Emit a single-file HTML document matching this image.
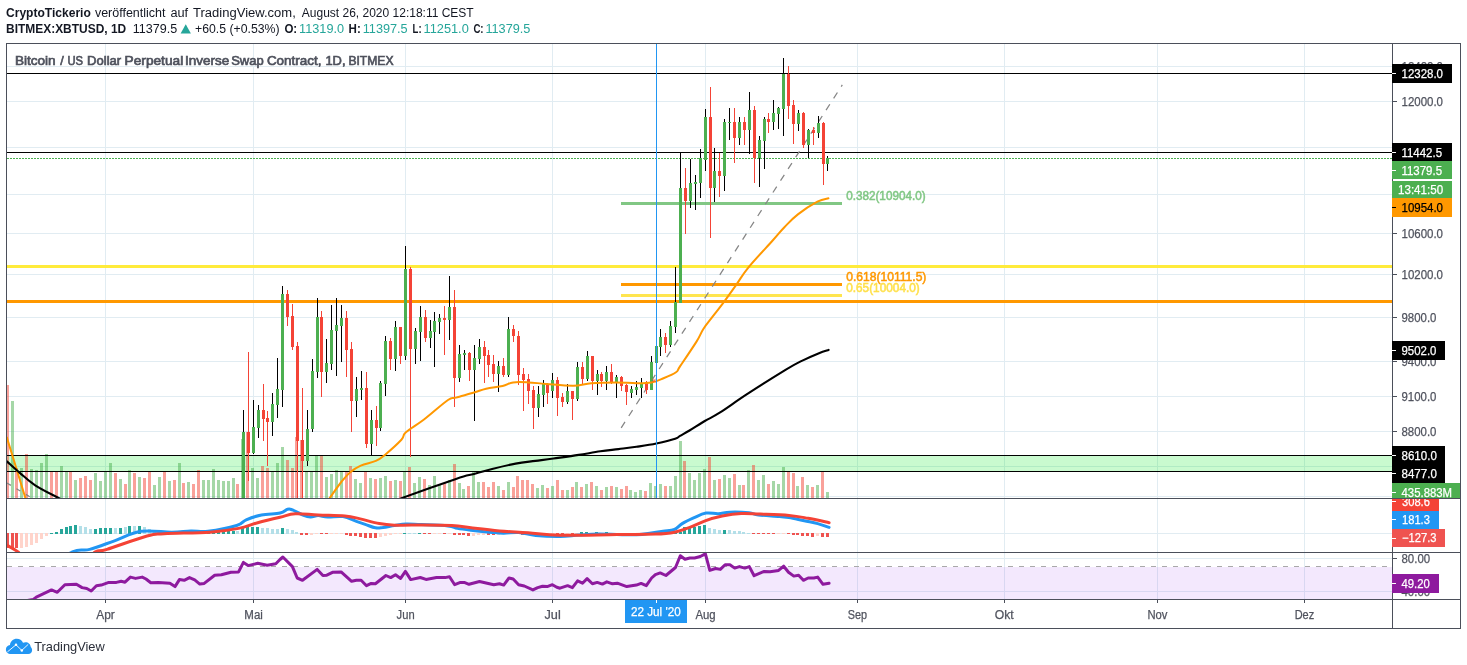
<!DOCTYPE html>
<html lang="de"><head><meta charset="utf-8"><title>BITMEX:XBTUSD 1D</title>
<style>html,body{margin:0;padding:0;background:#fff}svg{display:block}text{font-family:"Liberation Sans", Arial, sans-serif}</style></head>
<body><svg width="1467" height="665" viewBox="0 0 1467 665">
<rect width="1467" height="665" fill="#fff"/>
<defs>
<clipPath id="c1"><rect x="7" y="44" width="1385" height="454"/></clipPath>
<clipPath id="c2"><rect x="7" y="499" width="1385" height="53"/></clipPath>
<clipPath id="c3"><rect x="7" y="553" width="1385" height="46"/></clipPath>
<clipPath id="c4"><rect x="1392" y="44" width="68" height="454"/></clipPath>
<clipPath id="c5"><rect x="1392" y="499" width="68" height="53"/></clipPath>
<clipPath id="c6"><rect x="1392" y="553" width="68" height="46"/></clipPath>
</defs>
<g id="header">
<text x="6" y="16.6" font-size="12" fill="#131722" font-weight="bold" text-anchor="start" textLength="84.8" lengthAdjust="spacingAndGlyphs" >CryptoTickerio</text>
<text x="94.9" y="16.6" font-size="12" fill="#131722" font-weight="normal" text-anchor="start" textLength="70.6" lengthAdjust="spacingAndGlyphs" >veröffentlicht</text>
<text x="170.4" y="16.6" font-size="12" fill="#131722" font-weight="normal" text-anchor="start" textLength="17.7" lengthAdjust="spacingAndGlyphs" >auf</text>
<text x="193" y="16.6" font-size="12" fill="#131722" font-weight="normal" text-anchor="start" textLength="102.8" lengthAdjust="spacingAndGlyphs" >TradingView.com,</text>
<text x="301.8" y="16.6" font-size="12" fill="#131722" font-weight="normal" text-anchor="start" textLength="171.9" lengthAdjust="spacingAndGlyphs" >August 26, 2020 12:18:11 CEST</text>
<text x="6" y="33.3" font-size="12.5" fill="#131722" font-weight="bold" text-anchor="start" textLength="120.2" lengthAdjust="spacingAndGlyphs" >BITMEX:XBTUSD, 1D</text>
<text x="132.8" y="33.3" font-size="12.5" fill="#131722" font-weight="normal" text-anchor="start" textLength="44.4" lengthAdjust="spacingAndGlyphs" >11379.5</text>
<path d="M180.6 33.4 L185.75 24.3 L190.9 33.4 Z" fill="#26a69a"/>
<text x="195" y="33.3" font-size="12.5" fill="#131722" font-weight="normal" text-anchor="start" textLength="84.5" lengthAdjust="spacingAndGlyphs" >+60.5 (+0.53%)</text>
<text x="284.4" y="33.3" font-size="12.5" fill="#131722" font-weight="bold" text-anchor="start" textLength="12.8" lengthAdjust="spacingAndGlyphs" >O:</text>
<text x="299.1" y="33.3" font-size="12.5" fill="#26a69a" font-weight="normal" text-anchor="start" textLength="45" lengthAdjust="spacingAndGlyphs" >11319.0</text>
<text x="348.6" y="33.3" font-size="12.5" fill="#131722" font-weight="bold" text-anchor="start" textLength="12.2" lengthAdjust="spacingAndGlyphs" >H:</text>
<text x="362.7" y="33.3" font-size="12.5" fill="#26a69a" font-weight="normal" text-anchor="start" textLength="45" lengthAdjust="spacingAndGlyphs" >11397.5</text>
<text x="412.6" y="33.3" font-size="12.5" fill="#131722" font-weight="bold" text-anchor="start" textLength="9" lengthAdjust="spacingAndGlyphs" >L:</text>
<text x="423.5" y="33.3" font-size="12.5" fill="#26a69a" font-weight="normal" text-anchor="start" textLength="45.3" lengthAdjust="spacingAndGlyphs" >11251.0</text>
<text x="473.4" y="33.3" font-size="12.5" fill="#131722" font-weight="bold" text-anchor="start" textLength="10.2" lengthAdjust="spacingAndGlyphs" >C:</text>
<text x="485.4" y="33.3" font-size="12.5" fill="#26a69a" font-weight="normal" text-anchor="start" textLength="45" lengthAdjust="spacingAndGlyphs" >11379.5</text>
</g>
<g id="grid" shape-rendering="crispEdges">
<rect x="105" y="44" width="1" height="555" fill="#e1ecf2"/>
<rect x="253" y="44" width="1" height="555" fill="#e1ecf2"/>
<rect x="405" y="44" width="1" height="555" fill="#e1ecf2"/>
<rect x="552" y="44" width="1" height="555" fill="#e1ecf2"/>
<rect x="705" y="44" width="1" height="555" fill="#e1ecf2"/>
<rect x="857" y="44" width="1" height="555" fill="#e1ecf2"/>
<rect x="1004" y="44" width="1" height="555" fill="#e1ecf2"/>
<rect x="1157" y="44" width="1" height="555" fill="#e1ecf2"/>
<rect x="1304" y="44" width="1" height="555" fill="#e1ecf2"/>
<rect x="7" y="66" width="1385" height="1" fill="#e1ecf2"/>
<rect x="7" y="101" width="1385" height="1" fill="#e1ecf2"/>
<rect x="7" y="147" width="1385" height="1" fill="#e1ecf2"/>
<rect x="7" y="194" width="1385" height="1" fill="#e1ecf2"/>
<rect x="7" y="233" width="1385" height="1" fill="#e1ecf2"/>
<rect x="7" y="274" width="1385" height="1" fill="#e1ecf2"/>
<rect x="7" y="317" width="1385" height="1" fill="#e1ecf2"/>
<rect x="7" y="361" width="1385" height="1" fill="#e1ecf2"/>
<rect x="7" y="396" width="1385" height="1" fill="#e1ecf2"/>
<rect x="7" y="431" width="1385" height="1" fill="#e1ecf2"/>
<rect x="7" y="466" width="1385" height="1" fill="#e1ecf2"/>
<rect x="7" y="496" width="1385" height="1" fill="#e1ecf2"/>
<rect x="7" y="533" width="1385" height="1" fill="#e1ecf2"/>
<rect x="7" y="558" width="1385" height="1" fill="#e1ecf2"/>
<rect x="7" y="591" width="1385" height="1" fill="#e1ecf2"/>
</g>
<g id="main" clip-path="url(#c1)">
<text x="14.9" y="64.9" font-size="12.6" fill="#4e515c" font-weight="normal" text-anchor="start" textLength="40.8" lengthAdjust="spacingAndGlyphs" stroke="#4e515c" stroke-width="0.65">Bitcoin</text>
<text x="60.2" y="64.9" font-size="12.6" fill="#4e515c" font-weight="normal" text-anchor="start" stroke="#4e515c" stroke-width="0.65">/</text>
<text x="67.4" y="64.9" font-size="12.6" fill="#4e515c" font-weight="normal" text-anchor="start" textLength="15.6" lengthAdjust="spacingAndGlyphs" stroke="#4e515c" stroke-width="0.65">US</text>
<text x="87.1" y="64.9" font-size="12.6" fill="#4e515c" font-weight="normal" text-anchor="start" textLength="34.1" lengthAdjust="spacingAndGlyphs" stroke="#4e515c" stroke-width="0.65">Dollar</text>
<text x="124.6" y="64.9" font-size="12.6" fill="#4e515c" font-weight="normal" text-anchor="start" textLength="58.6" lengthAdjust="spacingAndGlyphs" stroke="#4e515c" stroke-width="0.65">Perpetual</text>
<text x="184.9" y="64.9" font-size="12.6" fill="#4e515c" font-weight="normal" text-anchor="start" textLength="44.3" lengthAdjust="spacingAndGlyphs" stroke="#4e515c" stroke-width="0.65">Inverse</text>
<text x="231.2" y="64.9" font-size="12.6" fill="#4e515c" font-weight="normal" text-anchor="start" textLength="32.5" lengthAdjust="spacingAndGlyphs" stroke="#4e515c" stroke-width="0.65">Swap</text>
<text x="266.9" y="64.9" font-size="12.6" fill="#4e515c" font-weight="normal" text-anchor="start" textLength="54.6" lengthAdjust="spacingAndGlyphs" stroke="#4e515c" stroke-width="0.65">Contract,</text>
<text x="325.4" y="64.9" font-size="12.6" fill="#4e515c" font-weight="normal" text-anchor="start" textLength="20.1" lengthAdjust="spacingAndGlyphs" stroke="#4e515c" stroke-width="0.65">1D,</text>
<text x="348.4" y="64.9" font-size="12.6" fill="#4e515c" font-weight="normal" text-anchor="start" textLength="45.1" lengthAdjust="spacingAndGlyphs" stroke="#4e515c" stroke-width="0.65">BITMEX</text>
<rect x="7" y="456" width="1385" height="15" shape-rendering="crispEdges" fill="#00e81a" fill-opacity="0.21"/>
<path d="M11 498v-97h3v97zM20 498v-30h3v30zM30 498v-29h3v29zM35 498v-28h3v28zM40 498v-35h3v35zM45 498v-44h3v44zM60 498v-32h3v32zM65 498v-27h3v27zM74 498v-18h3v18zM94 498v-25h3v25zM99 498v-17h3v17zM104 498v-27h3v27zM109 498v-35h3v35zM119 498v-19h3v19zM128 498v-28h3v28zM138 498v-21h3v21zM153 498v-13h3v13zM158 498v-21h3v21zM168 498v-17h3v17zM178 498v-35h3v35zM187 498v-16h3v16zM202 498v-18h3v18zM207 498v-18h3v18zM212 498v-29h3v29zM217 498v-18h3v18zM222 498v-17h3v17zM227 498v-17h3v17zM232 498v-20h3v20zM241 498v-59h3v59zM251 498v-30h3v30zM256 498v-20h3v20zM271 498v-27h3v27zM276 498v-35h3v35zM281 498v-51h3v51zM305 498v-27h3v27zM310 498v-27h3v27zM315 498v-43h3v43zM325 498v-21h3v21zM330 498v-24h3v24zM335 498v-28h3v28zM340 498v-27h3v27zM354 498v-19h3v19zM359 498v-15h3v15zM369 498v-20h3v20zM379 498v-20h3v20zM384 498v-22h3v22zM394 498v-18h3v18zM403 498v-27h3v27zM413 498v-15h3v15zM418 498v-21h3v21zM428 498v-13h3v13zM433 498v-22h3v22zM438 498v-13h3v13zM448 498v-18h3v18zM458 498v-15h3v15zM462 498v-9h3v9zM472 498v-27h3v27zM477 498v-16h3v16zM497 498v-12h3v12zM507 498v-16h3v16zM536 498v-10h3v10zM541 498v-13h3v13zM551 498v-12h3v12zM566 498v-8h3v8zM575 498v-16h3v16zM585 498v-14h3v14zM595 498v-12h3v12zM605 498v-11h3v11zM615 498v-11h3v11zM629 498v-8h3v8zM634 498v-6h3v6zM639 498v-8h3v8zM649 498v-15h3v15zM654 498v-12h3v12zM659 498v-14h3v14zM669 498v-12h3v12zM674 498v-22h3v22zM679 498v-57h3v57zM688 498v-25h3v25zM693 498v-18h3v18zM698 498v-25h3v25zM703 498v-29h3v29zM713 498v-18h3v18zM723 498v-23h3v23zM728 498v-20h3v20zM738 498v-13h3v13zM747 498v-28h3v28zM757 498v-18h3v18zM762 498v-23h3v23zM772 498v-17h3v17zM777 498v-14h3v14zM782 498v-31h3v31zM796 498v-12h3v12zM806 498v-13h3v13zM816 498v-13h3v13zM826 498v-6h3v6z" fill="#4caf50" fill-opacity="0.5" shape-rendering="crispEdges"/>
<path d="M6 498v-113h3v113zM15 498v-30h3v30zM25 498v-44h3v44zM50 498v-27h3v27zM55 498v-27h3v27zM69 498v-27h3v27zM79 498v-20h3v20zM84 498v-22h3v22zM89 498v-18h3v18zM114 498v-25h3v25zM124 498v-14h3v14zM133 498v-25h3v25zM143 498v-20h3v20zM148 498v-26h3v26zM163 498v-27h3v27zM173 498v-18h3v18zM182 498v-15h3v15zM192 498v-14h3v14zM197 498v-28h3v28zM236 498v-14h3v14zM246 498v-66h3v66zM261 498v-32h3v32zM266 498v-30h3v30zM286 498v-38h3v38zM291 498v-30h3v30zM295 498v-61h3v61zM300 498v-58h3v58zM320 498v-43h3v43zM345 498v-27h3v27zM349 498v-32h3v32zM364 498v-26h3v26zM374 498v-19h3v19zM389 498v-17h3v17zM399 498v-17h3v17zM408 498v-31h3v31zM423 498v-19h3v19zM443 498v-15h3v15zM453 498v-34h3v34zM467 498v-12h3v12zM482 498v-16h3v16zM487 498v-11h3v11zM492 498v-16h3v16zM502 498v-8h3v8zM512 498v-11h3v11zM516 498v-22h3v22zM521 498v-18h3v18zM526 498v-18h3v18zM531 498v-14h3v14zM546 498v-10h3v10zM556 498v-18h3v18zM561 498v-8h3v8zM571 498v-11h3v11zM580 498v-11h3v11zM590 498v-16h3v16zM600 498v-8h3v8zM610 498v-12h3v12zM620 498v-9h3v9zM625 498v-12h3v12zM644 498v-7h3v7zM664 498v-12h3v12zM683 498v-37h3v37zM708 498v-41h3v41zM718 498v-19h3v19zM733 498v-24h3v24zM742 498v-13h3v13zM752 498v-33h3v33zM767 498v-14h3v14zM787 498v-26h3v26zM792 498v-25h3v25zM801 498v-21h3v21zM811 498v-11h3v11zM821 498v-27h3v27z" fill="#f44336" fill-opacity="0.5" shape-rendering="crispEdges"/>
<g shape-rendering="crispEdges">
<rect x="7" y="455" width="1385" height="1" fill="#000"/>
<rect x="7" y="471" width="1385" height="1" fill="#000"/>
<rect x="7" y="73" width="1385" height="1" fill="#000"/>
<rect x="7" y="152" width="1385" height="1" fill="#000"/>
<rect x="7" y="265" width="1385" height="3" fill="#ffeb3b"/>
<rect x="7" y="300" width="1385" height="3" fill="#ff9800"/>
<rect x="621" y="202" width="221" height="3" fill="#81c784"/>
<rect x="621" y="283" width="221" height="3" fill="#ff9800"/>
<rect x="621" y="294" width="221" height="3" fill="#ffe54f"/>
</g>
<line x1="7" y1="158.5" x2="1392" y2="158.5" stroke="#4caf50" stroke-width="1" stroke-dasharray="2 1" shape-rendering="crispEdges"/>
<text x="846.2" y="199.8" font-size="12" fill="#81c784" font-weight="normal" text-anchor="start" textLength="79.4" lengthAdjust="spacingAndGlyphs" stroke="#81c784" stroke-width="0.5">0.382(10904.0)</text>
<text x="846.2" y="280.7" font-size="12" fill="#ff9800" font-weight="normal" text-anchor="start" textLength="80.2" lengthAdjust="spacingAndGlyphs" stroke="#ff9800" stroke-width="0.5">0.618(10111.5)</text>
<text x="846.2" y="291.9" font-size="12" fill="#ffe04a" font-weight="normal" text-anchor="start" textLength="73.6" lengthAdjust="spacingAndGlyphs" stroke="#ffe04a" stroke-width="0.5">0.65(10004.0)</text>
<line x1="621.2" y1="427.8" x2="842.3" y2="84.9" stroke="#858585" stroke-width="1.25" stroke-dasharray="7 7"/>
<line x1="7" y1="483.1" x2="30.3" y2="497" stroke="#858585" stroke-width="1.25" stroke-dasharray="4.5 6.5"/>
<g shape-rendering="crispEdges">
<path d="M243 410h1v88h-1zM253 400h1v54h-1zM258 405h1v33h-1zM272 393h1v43h-1zM277 358h1v60h-1zM282 286h1v121h-1zM307 410h1v56h-1zM312 359h1v73h-1zM317 298h1v80h-1zM326 339h1v44h-1zM331 305h1v65h-1zM336 298h1v78h-1zM341 305h1v57h-1zM356 377h1v40h-1zM361 371h1v29h-1zM371 410h1v45h-1zM380 381h1v50h-1zM385 336h1v60h-1zM395 321h1v50h-1zM405 246h1v114h-1zM415 328h1v36h-1zM420 306h1v55h-1zM430 320h1v28h-1zM434 312h1v55h-1zM439 314h1v20h-1zM449 276h1v64h-1zM459 345h1v37h-1zM464 350h1v20h-1zM474 345h1v76h-1zM479 339h1v25h-1zM498 361h1v31h-1zM508 317h1v60h-1zM538 386h1v31h-1zM543 380h1v27h-1zM552 373h1v25h-1zM567 384h1v20h-1zM577 362h1v39h-1zM587 351h1v30h-1zM597 370h1v25h-1zM606 366h1v24h-1zM616 375h1v23h-1zM631 386h1v12h-1zM636 381h1v14h-1zM641 378h1v20h-1zM651 356h1v34h-1zM656 340h1v34h-1zM660 329h1v27h-1zM670 321h1v26h-1zM675 267h1v66h-1zM680 153h1v150h-1zM690 159h1v49h-1zM695 175h1v35h-1zM700 149h1v49h-1zM705 109h1v62h-1zM714 148h1v54h-1zM724 119h1v72h-1zM729 108h1v32h-1zM739 117h1v28h-1zM749 92h1v62h-1zM759 136h1v51h-1zM764 117h1v52h-1zM773 100h1v30h-1zM778 107h1v22h-1zM783 58h1v78h-1zM798 110h1v21h-1zM808 129h1v29h-1zM818 116h1v22h-1zM827 156h1v15h-1z" fill="#000"/>
<path d="M248 352h1v129h-1zM263 384h1v57h-1zM267 411h1v55h-1zM287 290h1v36h-1zM292 304h1v46h-1zM297 342h1v156h-1zM302 388h1v110h-1zM321 311h1v86h-1zM346 311h1v66h-1zM351 342h1v90h-1zM366 372h1v76h-1zM376 406h1v40h-1zM390 338h1v32h-1zM400 327h1v37h-1zM410 267h1v190h-1zM425 310h1v32h-1zM444 306h1v49h-1zM454 290h1v117h-1zM469 352h1v29h-1zM484 341h1v42h-1zM488 350h1v27h-1zM493 355h1v27h-1zM503 358h1v19h-1zM513 325h1v17h-1zM518 331h1v54h-1zM523 368h1v43h-1zM528 374h1v30h-1zM533 386h1v43h-1zM547 383h1v21h-1zM557 377h1v39h-1zM562 393h1v14h-1zM572 391h1v29h-1zM582 362h1v22h-1zM592 356h1v34h-1zM601 372h1v15h-1zM611 364h1v20h-1zM621 376h1v15h-1zM626 384h1v21h-1zM646 381h1v13h-1zM665 333h1v20h-1zM685 168h1v66h-1zM710 87h1v151h-1zM719 153h1v44h-1zM734 108h1v55h-1zM744 117h1v28h-1zM754 106h1v77h-1zM768 113h1v20h-1zM788 66h1v53h-1zM793 100h1v44h-1zM803 112h1v36h-1zM813 127h1v18h-1zM823 122h1v63h-1z" fill="#f44336"/>
<path d="M242 432h3v66h-3zM252 427h3v26h-3zM257 410h3v18h-3zM271 404h3v18h-3zM276 389h3v16h-3zM281 294h3v96h-3zM306 429h3v32h-3zM311 371h3v58h-3zM316 317h3v55h-3zM325 363h3v9h-3zM330 330h3v34h-3zM335 325h3v6h-3zM340 318h3v8h-3zM355 389h3v12h-3zM360 388h3v2h-3zM370 420h3v24h-3zM379 383h3v45h-3zM384 341h3v43h-3zM394 327h3v32h-3zM404 269h3v87h-3zM414 331h3v18h-3zM419 317h3v15h-3zM429 331h3v7h-3zM433 321h3v11h-3zM438 318h3v4h-3zM448 307h3v13h-3zM458 354h3v24h-3zM463 353h3v2h-3zM473 358h3v12h-3zM478 347h3v12h-3zM497 366h3v8h-3zM507 329h3v46h-3zM537 394h3v14h-3zM542 384h3v11h-3zM551 380h3v11h-3zM566 391h3v11h-3zM576 367h3v32h-3zM586 356h3v23h-3zM596 374h3v7h-3zM605 372h3v9h-3zM615 377h3v5h-3zM630 389h3v4h-3zM635 387h3v3h-3zM640 383h3v5h-3zM650 362h3v28h-3zM655 346h3v17h-3zM659 337h3v10h-3zM669 326h3v19h-3zM674 302h3v25h-3zM679 188h3v115h-3zM689 183h3v18h-3zM694 182h3v2h-3zM699 158h3v25h-3zM704 117h3v43h-3zM713 171h3v17h-3zM723 122h3v54h-3zM728 122h3v1h-3zM738 122h3v16h-3zM748 110h3v20h-3zM758 140h3v18h-3zM763 119h3v22h-3zM772 113h3v9h-3zM777 108h3v6h-3zM782 74h3v35h-3zM797 113h3v11h-3zM807 130h3v15h-3zM817 123h3v10h-3zM826 158h3v6h-3z" fill="#4caf50"/>
<path d="M247 432h3v21h-3zM262 410h3v9h-3zM266 418h3v4h-3zM286 294h3v23h-3zM291 316h3v31h-3zM296 346h3v95h-3zM301 440h3v21h-3zM320 317h3v55h-3zM345 318h3v32h-3zM350 349h3v52h-3zM365 388h3v56h-3zM375 420h3v8h-3zM389 341h3v18h-3zM399 327h3v29h-3zM409 269h3v80h-3zM424 317h3v21h-3zM443 318h3v2h-3zM453 307h3v71h-3zM468 353h3v17h-3zM483 347h3v9h-3zM487 355h3v10h-3zM492 364h3v10h-3zM502 366h3v9h-3zM512 329h3v7h-3zM517 336h3v39h-3zM522 374h3v6h-3zM527 379h3v12h-3zM532 390h3v18h-3zM546 384h3v9h-3zM556 380h3v18h-3zM561 397h3v5h-3zM571 391h3v8h-3zM581 367h3v12h-3zM591 356h3v25h-3zM600 374h3v7h-3zM610 372h3v10h-3zM620 377h3v9h-3zM625 385h3v7h-3zM645 383h3v7h-3zM664 337h3v8h-3zM684 188h3v13h-3zM709 117h3v71h-3zM718 171h3v5h-3zM733 122h3v16h-3zM743 122h3v8h-3zM753 110h3v48h-3zM767 119h3v3h-3zM787 74h3v32h-3zM792 105h3v19h-3zM802 113h3v32h-3zM812 130h3v3h-3zM822 123h3v41h-3z" fill="#f44336"/>
</g>
<path d="M6.8 437.4C10.1 448.3 21.8 486.0 25.4 498.0C29.0 510.0 26.7 502.9 27.0 504.0" fill="none" stroke="#ff9800" stroke-width="2" stroke-linejoin="round" stroke-linecap="round"/><path d="M328.0 501.0C328.4 500.4 327.6 501.1 330.0 497.7C332.4 494.3 337.6 486.6 341.3 482.0C345.0 477.4 346.8 475.1 350.3 472.2C353.8 469.3 356.2 467.7 360.8 465.7C365.4 463.7 371.5 462.8 375.8 460.9C380.1 459.0 380.3 458.7 384.9 454.9C389.5 451.1 397.6 443.9 401.4 439.8C405.2 435.7 401.8 436.0 405.9 432.3C410.0 428.6 416.4 425.3 424.0 419.5C431.6 413.7 442.2 403.9 448.0 400.0C453.8 396.1 451.3 399.0 456.0 397.6C460.7 396.2 468.6 394.1 474.0 392.5C479.4 390.9 481.0 389.9 486.1 388.7C491.2 387.5 497.7 387.1 502.6 386.0C507.5 384.9 508.5 383.0 513.1 382.4C517.7 381.8 522.2 382.1 528.2 382.4C534.2 382.7 538.1 383.3 546.2 383.9C554.3 384.5 565.2 385.8 573.3 385.7C581.4 385.6 583.7 383.8 591.3 383.2C598.9 382.6 607.3 382.4 615.4 382.4C623.5 382.4 630.0 383.2 636.5 383.2C643.0 383.2 646.6 383.3 651.5 382.4C656.4 381.5 659.1 380.0 663.5 378.2C667.9 376.4 673.0 374.3 676.0 372.2C679.0 370.1 676.3 371.9 680.0 366.4C683.7 360.9 692.3 348.3 696.5 341.6C700.7 334.9 700.4 333.6 703.2 329.2C706.0 324.8 708.7 321.8 712.2 317.2C715.7 312.6 718.4 309.5 722.7 303.7C727.0 297.9 731.6 291.4 736.2 284.9C740.8 278.4 741.7 275.7 748.3 267.6C754.9 259.5 766.6 247.3 773.1 240.0C779.6 232.7 779.9 231.8 784.4 227.2C788.9 222.6 792.0 219.0 797.9 214.4C803.8 209.8 811.9 204.6 817.4 201.7C822.9 198.8 826.4 198.9 828.4 198.3" fill="none" stroke="#ff9800" stroke-width="2" stroke-linejoin="round" stroke-linecap="round"/>
<path d="M6.8 461.3C9.1 463.3 14.4 468.3 19.5 472.6C24.6 476.9 28.2 480.7 35.2 485.3C42.2 489.9 53.1 495.0 58.6 498.0C64.1 501.0 64.7 501.3 66.0 502.0" fill="none" stroke="#000" stroke-width="2.1" stroke-linejoin="round" stroke-linecap="round"/><path d="M396.0 501.0C397.2 500.4 392.1 501.7 402.9 497.7C413.7 493.7 443.2 483.2 456.0 478.9C468.8 474.6 467.5 475.7 474.0 473.9C480.5 472.1 484.6 470.9 492.1 469.0C499.6 467.1 507.8 465.1 515.6 463.6C523.4 462.1 528.6 461.8 535.4 460.9C542.2 460.0 545.7 459.6 553.5 458.5C561.3 457.4 570.3 456.2 578.7 454.9C587.1 453.6 593.2 452.3 600.4 451.3C607.6 450.3 612.0 449.9 618.5 449.1C625.0 448.3 629.7 447.8 636.5 446.8C643.3 445.8 649.4 445.0 656.4 443.5C663.4 442.0 671.0 440.1 675.2 438.7C679.4 437.3 677.4 437.4 680.0 435.9C682.6 434.4 685.0 433.2 689.5 430.5C694.0 427.8 699.4 424.2 704.8 421.0C710.2 417.8 712.0 417.6 719.7 412.7C727.4 407.8 735.9 401.4 747.8 393.7C759.7 386.0 776.1 375.7 785.9 369.7C795.7 363.7 796.4 363.6 802.4 360.6C808.4 357.6 814.3 355.1 819.0 353.2C823.7 351.3 826.9 350.5 828.6 349.9" fill="none" stroke="#000" stroke-width="2.1" stroke-linejoin="round" stroke-linecap="round"/>
<path d="M652 378.5l4 4m0 -4l-4 4" stroke="#f44336" stroke-width="0.8" fill="none"/>
<rect x="656" y="44" width="1" height="454" fill="#2196f3"/>
</g>
<g id="macd" clip-path="url(#c2)">
<path d="M50 534v-1h3v1zM55 534v-2h3v2zM60 534v-5h3v5zM65 534v-7h3v7zM69 534v-8h3v8zM74 534v-9h3v9zM94 534v-5h3v5zM99 534v-6h3v6zM104 534v-6h3v6zM109 534v-6h3v6zM119 534v-6h3v6zM128 534v-8h3v8zM138 534v-8h3v8zM197 534v-1h3v1zM202 534v-1h3v1zM207 534v-1h3v1zM212 534v-2h3v2zM217 534v-2h3v2zM222 534v-3h3v3zM227 534v-3h3v3zM232 534v-3h3v3zM241 534v-7h3v7zM246 534v-7h3v7zM251 534v-7h3v7zM256 534v-7h3v7zM281 534v-6h3v6zM403 534v-1h3v1zM418 534v-1h3v1zM580 534v-2h3v2zM585 534v-2h3v2zM595 534v-2h3v2zM605 534v-2h3v2zM610 534v-1h3v1zM634 534v-1h3v1zM639 534v-1h3v1zM649 534v-1h3v1zM654 534v-1h3v1zM659 534v-2h3v2zM669 534v-2h3v2zM674 534v-2h3v2zM679 534v-2h3v2zM683 534v-7h3v7zM688 534v-6h3v6zM693 534v-7h3v7zM698 534v-8h3v8zM703 534v-9h3v9zM723 534v-4h3v4z" fill="#26a69a" shape-rendering="crispEdges"/>
<path d="M79 534v-8h3v8zM84 534v-7h3v7zM89 534v-5h3v5zM114 534v-6h3v6zM124 534v-7h3v7zM133 534v-8h3v8zM143 534v-7h3v7zM148 534v-5h3v5zM153 534v-4h3v4zM158 534v-4h3v4zM163 534v-2h3v2zM168 534v-2h3v2zM173 534v-1h3v1zM178 534v-1h3v1zM182 534v-1h3v1zM236 534v-3h3v3zM261 534v-6h3v6zM266 534v-6h3v6zM271 534v-5h3v5zM276 534v-5h3v5zM286 534v-5h3v5zM291 534v-4h3v4zM295 534v-2h3v2zM408 534v-1h3v1zM413 534v-1h3v1zM590 534v-1h3v1zM600 534v-1h3v1zM615 534v-1h3v1zM620 534v-1h3v1zM644 534v-1h3v1zM664 534v-2h3v2zM708 534v-6h3v6zM713 534v-5h3v5zM718 534v-4h3v4zM728 534v-4h3v4zM733 534v-3h3v3zM738 534v-3h3v3zM742 534v-2h3v2zM747 534v-1h3v1z" fill="#b3dfe8" shape-rendering="crispEdges"/>
<path d="M6 533v15h3v-15zM11 533v15h3v-15zM15 533v15h3v-15zM300 533v2h3v-2zM305 533v2h3v-2zM320 533v1h3v-1zM325 533v1h3v-1zM345 533v2h3v-2zM349 533v3h3v-3zM354 533v3h3v-3zM359 533v4h3v-4zM364 533v5h3v-5zM369 533v5h3v-5zM374 533v5h3v-5zM423 533v1h3v-1zM428 533v1h3v-1zM443 533v1h3v-1zM453 533v2h3v-2zM458 533v2h3v-2zM462 533v2h3v-2zM467 533v3h3v-3zM487 533v2h3v-2zM492 533v2h3v-2zM516 533v1h3v-1zM521 533v2h3v-2zM526 533v2h3v-2zM531 533v2h3v-2zM556 533v1h3v-1zM561 533v1h3v-1zM571 533v1h3v-1zM752 533v1h3v-1zM757 533v1h3v-1zM762 533v1h3v-1zM767 533v1h3v-1zM772 533v1h3v-1zM787 533v1h3v-1zM792 533v2h3v-2zM796 533v2h3v-2zM801 533v3h3v-3zM806 533v3h3v-3zM811 533v4h3v-4zM821 533v4h3v-4zM826 533v4h3v-4z" fill="#ef5350" shape-rendering="crispEdges"/>
<path d="M20 533v15h3v-15zM25 533v14h3v-14zM30 533v12h3v-12zM35 533v10h3v-10zM40 533v6h3v-6zM45 533v3h3v-3zM187 533v1h3v-1zM192 533v1h3v-1zM310 533v2h3v-2zM315 533v1h3v-1zM330 533v1h3v-1zM335 533v1h3v-1zM340 533v1h3v-1zM379 533v4h3v-4zM384 533v3h3v-3zM389 533v2h3v-2zM394 533v1h3v-1zM399 533v1h3v-1zM433 533v1h3v-1zM438 533v1h3v-1zM448 533v1h3v-1zM472 533v3h3v-3zM477 533v2h3v-2zM482 533v2h3v-2zM497 533v2h3v-2zM502 533v1h3v-1zM507 533v1h3v-1zM512 533v1h3v-1zM536 533v2h3v-2zM541 533v1h3v-1zM546 533v1h3v-1zM551 533v1h3v-1zM566 533v1h3v-1zM575 533v1h3v-1zM625 533v1h3v-1zM629 533v1h3v-1zM777 533v1h3v-1zM782 533v1h3v-1zM816 533v3h3v-3z" fill="#ffd4cb" shape-rendering="crispEdges"/>
<path d="M40.0 572.0C45.9 568.4 63.6 556.0 72.5 551.9C81.4 547.8 82.1 551.4 89.7 549.4C97.3 547.4 105.2 544.1 114.5 540.8C123.8 537.5 130.9 532.8 141.2 531.3C151.5 529.8 162.9 532.3 171.8 532.2C180.7 532.1 184.4 531.1 190.9 530.9C197.4 530.7 199.8 532.3 208.0 531.3C216.2 530.3 229.8 527.6 236.7 525.5C243.6 523.4 241.7 521.7 246.2 519.8C250.7 517.9 255.4 516.2 261.5 515.0C267.6 513.8 275.3 514.0 280.0 513.0C284.7 512.0 285.4 509.9 287.6 509.3C289.8 508.7 289.6 508.9 292.4 509.9C295.2 510.9 299.6 513.7 302.9 515.0C306.2 516.3 307.7 516.9 310.5 517.0C313.3 517.1 315.1 515.6 318.2 515.6C321.3 515.6 323.2 516.8 327.7 517.0C332.2 517.2 337.8 515.8 343.0 516.6C348.2 517.4 352.3 519.9 356.4 521.3C360.5 522.7 362.5 523.4 365.9 524.6C369.3 525.8 372.3 527.3 375.4 527.8C378.5 528.3 379.7 527.8 383.1 527.4C386.5 527.0 390.4 526.1 394.5 525.5C398.6 524.9 401.2 524.2 406.0 524.0C410.8 523.8 413.6 524.3 421.2 524.6C428.8 524.9 441.5 525.2 448.0 525.9C454.5 526.6 453.4 527.6 457.5 528.4C461.6 529.2 465.0 529.6 470.9 530.3C476.8 531.0 484.2 531.7 490.0 532.2C495.8 532.7 498.2 533.1 503.3 533.2C508.4 533.3 512.8 532.2 518.6 532.6C524.5 533.0 528.3 534.8 535.8 535.5C543.3 536.2 552.2 536.6 560.0 536.5C567.8 536.4 572.2 535.5 579.1 535.1C586.0 534.7 587.9 534.2 598.2 534.1C608.5 534.0 627.1 534.9 636.4 534.7C645.7 534.5 644.9 533.8 649.7 533.2C654.5 532.6 658.6 532.0 663.1 531.3C667.6 530.6 671.1 530.8 674.5 529.4C677.9 528.0 678.8 525.7 682.2 523.6C685.6 521.5 689.3 519.8 693.6 517.9C697.9 516.0 701.5 513.9 706.0 513.1C710.5 512.3 714.1 513.9 718.4 513.7C722.7 513.5 724.4 512.4 729.9 512.2C735.4 512.0 743.9 512.3 749.0 512.8C754.1 513.3 753.0 514.3 758.5 515.0C764.0 515.7 774.0 516.1 779.5 516.6C785.0 517.1 784.5 516.7 789.0 517.5C793.5 518.3 799.1 519.7 804.3 520.8C809.5 521.9 813.2 522.4 817.7 523.6C822.2 524.8 827.0 526.7 829.1 527.4" fill="none" stroke="#2196f3" stroke-width="3" stroke-linejoin="round" stroke-linecap="round"/>
<path d="M7.6 545.6C9.5 546.7 14.1 548.9 18.1 551.9C22.1 554.9 18.9 560.2 30.0 562.0C41.1 563.8 68.2 563.8 80.0 562.0C91.8 560.2 90.6 554.2 95.4 551.9C100.2 549.6 97.6 552.3 106.9 549.4C116.2 546.5 136.7 538.8 147.0 536.0C157.3 533.2 152.9 534.4 164.2 533.7C175.5 533.0 196.6 533.2 210.0 532.2C223.4 531.2 230.0 530.1 238.6 528.4C247.2 526.7 250.2 524.7 257.7 522.7C265.2 520.7 273.2 518.8 280.0 517.2C286.8 515.6 288.4 514.1 295.3 513.7C302.2 513.3 309.3 514.6 318.2 515.0C327.1 515.4 337.3 515.3 344.9 516.0C352.5 516.7 354.0 517.5 360.2 518.9C366.4 520.3 373.1 522.5 379.3 523.6C385.5 524.7 388.3 524.9 394.5 525.2C400.7 525.5 403.3 524.9 413.6 525.0C423.9 525.1 441.5 525.0 451.8 525.5C462.1 526.0 462.3 526.8 470.9 527.8C479.5 528.8 489.2 530.0 499.5 530.9C509.8 531.8 517.2 532.0 528.1 532.8C539.0 533.6 543.9 535.0 560.0 535.3C576.1 535.6 600.1 534.7 617.3 534.5C634.5 534.3 645.1 534.5 655.4 534.1C665.7 533.7 668.3 533.4 674.5 532.2C680.7 531.0 684.3 529.5 689.8 527.4C695.3 525.3 699.3 522.9 705.1 520.8C710.9 518.7 715.7 517.3 722.2 516.0C728.7 514.7 734.4 513.8 741.3 513.5C748.2 513.2 751.8 513.8 760.4 514.1C769.0 514.4 780.4 514.6 789.0 515.4C797.6 516.2 800.9 517.0 808.1 518.3C815.3 519.6 825.3 521.9 829.1 522.7" fill="none" stroke="#f44336" stroke-width="3" stroke-linejoin="round" stroke-linecap="round"/>
</g>
<g id="rsi" clip-path="url(#c3)">
<rect x="7" y="567" width="1385" height="33" fill="#8719eb" fill-opacity="0.1"/>
<line x1="7" y1="566.5" x2="1392" y2="566.5" stroke="#a9a9a9" stroke-width="1" stroke-dasharray="5 6" shape-rendering="crispEdges"/>
<polyline points="7.6,601.0 26.7,600.6 33.0,599.6 36.3,597.1 51.5,589.9 57.3,592.3 64.9,584.7 76.4,584.3 82.1,587.6 86.8,588.5 91.2,591.0 96.4,585.7 101.2,585.1 108.8,582.4 116.4,582.4 121.2,581.3 125.0,582.2 130.4,577.1 135.5,578.4 142.2,577.1 146.0,579.0 150.8,582.8 158.4,582.4 169.9,583.2 175.0,586.6 179.4,579.6 184.2,580.3 189.5,577.6 194.7,579.9 199.8,584.1 204.2,583.4 214.7,575.2 221.4,574.8 231.0,572.3 238.6,571.9 243.4,562.4 248.1,565.6 257.7,563.3 267.2,565.2 275.8,563.7 280.0,559.5 282.9,557.0 292.4,566.6 297.2,578.0 302.5,580.3 317.2,569.4 322.9,575.5 326.8,575.2 332.5,572.3 341.1,571.9 351.6,581.3 356.4,580.3 361.1,580.3 366.5,585.7 371.2,583.4 375.4,583.8 385.9,575.5 390.7,577.6 395.5,574.8 400.6,578.4 405.4,571.4 410.7,579.6 420.3,577.5 426.0,579.4 436.5,577.6 445.1,577.6 449.5,576.7 454.7,584.7 460.4,582.4 464.2,582.4 469.0,584.3 479.5,581.5 493.8,584.7 499.5,583.8 503.7,585.1 509.0,578.0 513.2,579.0 518.6,584.7 524.3,586.0 532.9,589.9 537.7,587.6 542.5,586.2 547.2,586.6 552.4,584.7 556.8,587.2 560.0,588.2 567.6,585.7 572.4,587.6 577.6,580.9 582.5,583.2 587.1,578.6 592.4,583.8 597.2,582.4 602.4,584.1 606.8,581.8 612.5,583.8 617.3,583.2 626.8,586.6 636.4,585.1 641.1,583.4 646.3,585.7 651.6,578.0 655.4,574.6 660.2,572.9 665.9,575.5 675.5,567.5 680.3,555.7 685.0,559.3 689.8,558.0 694.6,558.0 700.3,556.5 705.4,553.8 709.8,570.4 715.6,568.5 720.3,569.4 725.1,564.7 729.9,564.7 734.7,568.1 739.4,566.6 744.8,568.1 749.3,566.6 754.1,575.7 764.2,571.4 770.0,571.7 778.6,570.4 783.7,566.2 788.5,572.3 793.8,576.1 798.6,575.2 803.4,580.3 808.1,578.0 813.9,578.0 817.7,577.1 823.0,584.3 829.1,583.2" fill="none" stroke="#8e1a9e" stroke-width="3" stroke-linejoin="round" stroke-linecap="round" />
</g>
<g id="frame" shape-rendering="crispEdges">
<rect x="6" y="43" width="1455" height="1" fill="#4b4f5a"/>
<rect x="6" y="628" width="1455" height="1" fill="#4b4f5a"/>
<rect x="6" y="43" width="1" height="586" fill="#4b4f5a"/>
<rect x="1460" y="43" width="1" height="586" fill="#4b4f5a"/>
<rect x="1392" y="43" width="1" height="586" fill="#4b4f5a"/>
<rect x="6" y="498" width="1455" height="1" fill="#4b4f5a"/>
<rect x="6" y="552" width="1455" height="1" fill="#4b4f5a"/>
<rect x="6" y="599" width="1455" height="1" fill="#4b4f5a"/>
<rect x="105" y="600" width="1" height="3" fill="#4b4f5a"/>
<rect x="253" y="600" width="1" height="3" fill="#4b4f5a"/>
<rect x="405" y="600" width="1" height="3" fill="#4b4f5a"/>
<rect x="552" y="600" width="1" height="3" fill="#4b4f5a"/>
<rect x="705" y="600" width="1" height="3" fill="#4b4f5a"/>
<rect x="857" y="600" width="1" height="3" fill="#4b4f5a"/>
<rect x="1004" y="600" width="1" height="3" fill="#4b4f5a"/>
<rect x="1157" y="600" width="1" height="3" fill="#4b4f5a"/>
<rect x="1304" y="600" width="1" height="3" fill="#4b4f5a"/>
</g>
<g id="time">
<text x="105.5" y="618.6" font-size="12" fill="#50535e" font-weight="normal" text-anchor="middle" textLength="18.5" lengthAdjust="spacingAndGlyphs" stroke="#50535e" stroke-width="0.25">Apr</text>
<text x="253.6" y="618.6" font-size="12" fill="#50535e" font-weight="normal" text-anchor="middle" textLength="18.5" lengthAdjust="spacingAndGlyphs" stroke="#50535e" stroke-width="0.25">Mai</text>
<text x="405.6" y="618.6" font-size="12" fill="#50535e" font-weight="normal" text-anchor="middle" textLength="18" lengthAdjust="spacingAndGlyphs" stroke="#50535e" stroke-width="0.25">Jun</text>
<text x="552.6" y="618.6" font-size="12" fill="#50535e" font-weight="normal" text-anchor="middle" textLength="16.2" lengthAdjust="spacingAndGlyphs" stroke="#50535e" stroke-width="0.25">Jul</text>
<text x="705.5" y="618.6" font-size="12" fill="#50535e" font-weight="normal" text-anchor="middle" textLength="20.2" lengthAdjust="spacingAndGlyphs" stroke="#50535e" stroke-width="0.25">Aug</text>
<text x="857.5" y="618.6" font-size="12" fill="#50535e" font-weight="normal" text-anchor="middle" textLength="19.3" lengthAdjust="spacingAndGlyphs" stroke="#50535e" stroke-width="0.25">Sep</text>
<text x="1004.3" y="618.6" font-size="12" fill="#50535e" font-weight="normal" text-anchor="middle" textLength="18.9" lengthAdjust="spacingAndGlyphs" stroke="#50535e" stroke-width="0.25">Okt</text>
<text x="1157.5" y="618.6" font-size="12" fill="#50535e" font-weight="normal" text-anchor="middle" textLength="20" lengthAdjust="spacingAndGlyphs" stroke="#50535e" stroke-width="0.25">Nov</text>
<text x="1304.4" y="618.6" font-size="12" fill="#50535e" font-weight="normal" text-anchor="middle" textLength="19.5" lengthAdjust="spacingAndGlyphs" stroke="#50535e" stroke-width="0.25">Dez</text>
<rect x="625" y="600" width="62" height="23" fill="#2196f3" shape-rendering="crispEdges"/>
<rect x="656" y="600" width="1" height="3" fill="#fff"/>
<text x="631" y="616.4" font-size="12" fill="#fff" font-weight="normal" text-anchor="start" textLength="49.7" lengthAdjust="spacingAndGlyphs" stroke="#fff" stroke-width="0.25">22 Jul '20</text>
</g>
<g id="axis">
<g clip-path="url(#c4)">
<rect x="1393" y="66" width="4" height="1" fill="#4b4f5a" shape-rendering="crispEdges"/>
<text x="1401.5" y="70.8" font-size="12" fill="#50535e" font-weight="normal" text-anchor="start" textLength="41.5" lengthAdjust="spacingAndGlyphs" stroke="#50535e" stroke-width="0.25">12400.0</text>
</g>
<g clip-path="url(#c4)">
<rect x="1393" y="101" width="4" height="1" fill="#4b4f5a" shape-rendering="crispEdges"/>
<text x="1401.5" y="105.8" font-size="12" fill="#50535e" font-weight="normal" text-anchor="start" textLength="41.5" lengthAdjust="spacingAndGlyphs" stroke="#50535e" stroke-width="0.25">12000.0</text>
</g>
<g clip-path="url(#c4)">
<rect x="1393" y="233" width="4" height="1" fill="#4b4f5a" shape-rendering="crispEdges"/>
<text x="1401.5" y="237.8" font-size="12" fill="#50535e" font-weight="normal" text-anchor="start" textLength="41.5" lengthAdjust="spacingAndGlyphs" stroke="#50535e" stroke-width="0.25">10600.0</text>
</g>
<g clip-path="url(#c4)">
<rect x="1393" y="274" width="4" height="1" fill="#4b4f5a" shape-rendering="crispEdges"/>
<text x="1401.5" y="278.8" font-size="12" fill="#50535e" font-weight="normal" text-anchor="start" textLength="41.5" lengthAdjust="spacingAndGlyphs" stroke="#50535e" stroke-width="0.25">10200.0</text>
</g>
<g clip-path="url(#c4)">
<rect x="1393" y="317" width="4" height="1" fill="#4b4f5a" shape-rendering="crispEdges"/>
<text x="1401.5" y="321.8" font-size="12" fill="#50535e" font-weight="normal" text-anchor="start" textLength="34.9" lengthAdjust="spacingAndGlyphs" stroke="#50535e" stroke-width="0.25">9800.0</text>
</g>
<g clip-path="url(#c4)">
<rect x="1393" y="361" width="4" height="1" fill="#4b4f5a" shape-rendering="crispEdges"/>
<text x="1401.5" y="365.8" font-size="12" fill="#50535e" font-weight="normal" text-anchor="start" textLength="34.9" lengthAdjust="spacingAndGlyphs" stroke="#50535e" stroke-width="0.25">9400.0</text>
</g>
<g clip-path="url(#c4)">
<rect x="1393" y="396" width="4" height="1" fill="#4b4f5a" shape-rendering="crispEdges"/>
<text x="1401.5" y="400.8" font-size="12" fill="#50535e" font-weight="normal" text-anchor="start" textLength="34.9" lengthAdjust="spacingAndGlyphs" stroke="#50535e" stroke-width="0.25">9100.0</text>
</g>
<g clip-path="url(#c4)">
<rect x="1393" y="431" width="4" height="1" fill="#4b4f5a" shape-rendering="crispEdges"/>
<text x="1401.5" y="435.8" font-size="12" fill="#50535e" font-weight="normal" text-anchor="start" textLength="34.9" lengthAdjust="spacingAndGlyphs" stroke="#50535e" stroke-width="0.25">8800.0</text>
</g>
<g clip-path="url(#c6)">
<rect x="1393" y="558" width="4" height="1" fill="#4b4f5a" shape-rendering="crispEdges"/>
<text x="1401.5" y="562.8" font-size="12" fill="#50535e" font-weight="normal" text-anchor="start" textLength="28.6" lengthAdjust="spacingAndGlyphs" stroke="#50535e" stroke-width="0.25">80.00</text>
</g>
<g clip-path="url(#c6)">
<rect x="1393" y="591" width="4" height="1" fill="#4b4f5a" shape-rendering="crispEdges"/>
<text x="1401.5" y="595.8" font-size="12" fill="#50535e" font-weight="normal" text-anchor="start" textLength="28.6" lengthAdjust="spacingAndGlyphs" stroke="#50535e" stroke-width="0.25">40.00</text>
</g>
<g>
<rect x="1392" y="64" width="60" height="19" fill="#000" shape-rendering="crispEdges"/>
<rect x="1392" y="73" width="4" height="1" fill="#fff" shape-rendering="crispEdges"/>
<text x="1401.5" y="77.6" font-size="12" fill="#fff" font-weight="normal" text-anchor="start" textLength="41.5" lengthAdjust="spacingAndGlyphs" stroke="#fff" stroke-width="0.25">12328.0</text>
</g>
<g>
<rect x="1392" y="143" width="60" height="18" fill="#000" shape-rendering="crispEdges"/>
<rect x="1392" y="152" width="4" height="1" fill="#fff" shape-rendering="crispEdges"/>
<text x="1401.5" y="156.8" font-size="12" fill="#fff" font-weight="normal" text-anchor="start" textLength="40.5" lengthAdjust="spacingAndGlyphs" stroke="#fff" stroke-width="0.25">11442.5</text>
</g>
<g>
<rect x="1392" y="161" width="60" height="18" fill="#4caf50" shape-rendering="crispEdges"/>
<rect x="1392" y="170" width="4" height="1" fill="#fff" shape-rendering="crispEdges"/>
<text x="1401.5" y="174.9" font-size="12" fill="#fff" font-weight="normal" text-anchor="start" textLength="40.5" lengthAdjust="spacingAndGlyphs" stroke="#fff" stroke-width="0.25">11379.5</text>
</g>
<g>
<rect x="1392" y="181" width="60" height="17" fill="#4caf50" shape-rendering="crispEdges"/>
<text x="1398" y="194.4" font-size="12" fill="#fff" font-weight="normal" text-anchor="start" textLength="45.1" lengthAdjust="spacingAndGlyphs" stroke="#fff" stroke-width="0.25">13:41:50</text>
</g>
<g>
<rect x="1392" y="198" width="60" height="19" fill="#ff9800" shape-rendering="crispEdges"/>
<rect x="1392" y="207" width="4" height="1" fill="#000" shape-rendering="crispEdges"/>
<text x="1401.5" y="211.70000000000002" font-size="12" fill="#000" font-weight="normal" text-anchor="start" textLength="41.5" lengthAdjust="spacingAndGlyphs" stroke="#000" stroke-width="0.25">10954.0</text>
</g>
<g>
<rect x="1392" y="341" width="53" height="19" fill="#000" shape-rendering="crispEdges"/>
<rect x="1392" y="350" width="4" height="1" fill="#fff" shape-rendering="crispEdges"/>
<text x="1401.5" y="355.0" font-size="12" fill="#fff" font-weight="normal" text-anchor="start" textLength="34.9" lengthAdjust="spacingAndGlyphs" stroke="#fff" stroke-width="0.25">9502.0</text>
</g>
<g>
<rect x="1392" y="446" width="53" height="37" fill="#000" shape-rendering="crispEdges"/>
<rect x="1392" y="455" width="4" height="1" fill="#fff" shape-rendering="crispEdges"/>
<text x="1401.5" y="459.7" font-size="12" fill="#fff" font-weight="normal" text-anchor="start" textLength="35.3" lengthAdjust="spacingAndGlyphs" stroke="#fff" stroke-width="0.25">8610.0</text>
</g>
<g>
<rect x="1392" y="464" width="53" height="19" fill="#000" shape-rendering="crispEdges"/>
<rect x="1392" y="473" width="4" height="1" fill="#fff" shape-rendering="crispEdges"/>
<text x="1401.5" y="477.5" font-size="12" fill="#fff" font-weight="normal" text-anchor="start" textLength="35.3" lengthAdjust="spacingAndGlyphs" stroke="#fff" stroke-width="0.25">8477.0</text>
</g>
<g clip-path="url(#c4)">
<rect x="1392" y="483" width="68" height="16" fill="#4caf50" shape-rendering="crispEdges"/>
<rect x="1392" y="492" width="4" height="1" fill="#fff" shape-rendering="crispEdges"/>
<text x="1401.5" y="497.2" font-size="12" fill="#fff" font-weight="normal" text-anchor="start" textLength="50.6" lengthAdjust="spacingAndGlyphs" stroke="#fff" stroke-width="0.25">435.883M</text>
</g>
<g clip-path="url(#c5)">
<rect x="1392" y="499" width="47" height="12" fill="#f44336" shape-rendering="crispEdges"/>
<rect x="1392" y="501" width="4" height="1" fill="#fff" shape-rendering="crispEdges"/>
<text x="1402" y="506.2" font-size="12" fill="#fff" font-weight="normal" text-anchor="start" textLength="27.9" lengthAdjust="spacingAndGlyphs" stroke="#fff" stroke-width="0.25">308.6</text>
</g>
<g>
<rect x="1392" y="511" width="47" height="18" fill="#2196f3" shape-rendering="crispEdges"/>
<rect x="1392" y="519" width="4" height="1" fill="#fff" shape-rendering="crispEdges"/>
<text x="1402" y="523.9" font-size="12" fill="#fff" font-weight="normal" text-anchor="start" textLength="27.9" lengthAdjust="spacingAndGlyphs" stroke="#fff" stroke-width="0.25">181.3</text>
</g>
<g>
<rect x="1392" y="529" width="53" height="18" fill="#ef5350" shape-rendering="crispEdges"/>
<rect x="1392" y="538" width="4" height="1" fill="#fff" shape-rendering="crispEdges"/>
<text x="1402" y="542.3" font-size="12" fill="#fff" font-weight="normal" text-anchor="start" textLength="34.5" lengthAdjust="spacingAndGlyphs" stroke="#fff" stroke-width="0.25">−127.3</text>
</g>
<g>
<rect x="1392" y="574" width="47" height="19" fill="#8e1a9e" shape-rendering="crispEdges"/>
<rect x="1392" y="583" width="4" height="1" fill="#fff" shape-rendering="crispEdges"/>
<text x="1401.5" y="588.0999999999999" font-size="12" fill="#fff" font-weight="normal" text-anchor="start" textLength="28.3" lengthAdjust="spacingAndGlyphs" stroke="#fff" stroke-width="0.25">49.20</text>
</g>
</g>
<g id="logo">
<path d="M11.2 653.9 C7.6 653.9 5.9 651.8 5.9 649.4 C5.9 647 7.6 645.2 10 644.9 C10.3 641.4 13.2 638.8 16.8 638.8 C19.6 638.8 21.9 640.4 23 642.8 C23.7 642.4 24.6 642.2 25.5 642.2 C28.4 642.2 30.6 644.3 30.8 647.1 C31.7 647.9 32.1 649 32.1 650.2 C32.1 652.3 30.5 653.9 28.2 653.9 Z" fill="#2196f3"/>
<polyline points="7.4,651.9 16,644.8 21.8,650.4 28.2,644.4" fill="none" stroke="#fff" stroke-width="0.9" stroke-linejoin="round"/>
<circle cx="16" cy="644.8" r="1.25" fill="#fff"/><circle cx="21.8" cy="650.4" r="1.25" fill="#fff"/>
<text x="34.2" y="650.5" font-size="12.7" fill="#2a2e39" font-weight="normal" text-anchor="start" textLength="70.5" lengthAdjust="spacingAndGlyphs" >TradingView</text>
</g>
</svg></body></html>
